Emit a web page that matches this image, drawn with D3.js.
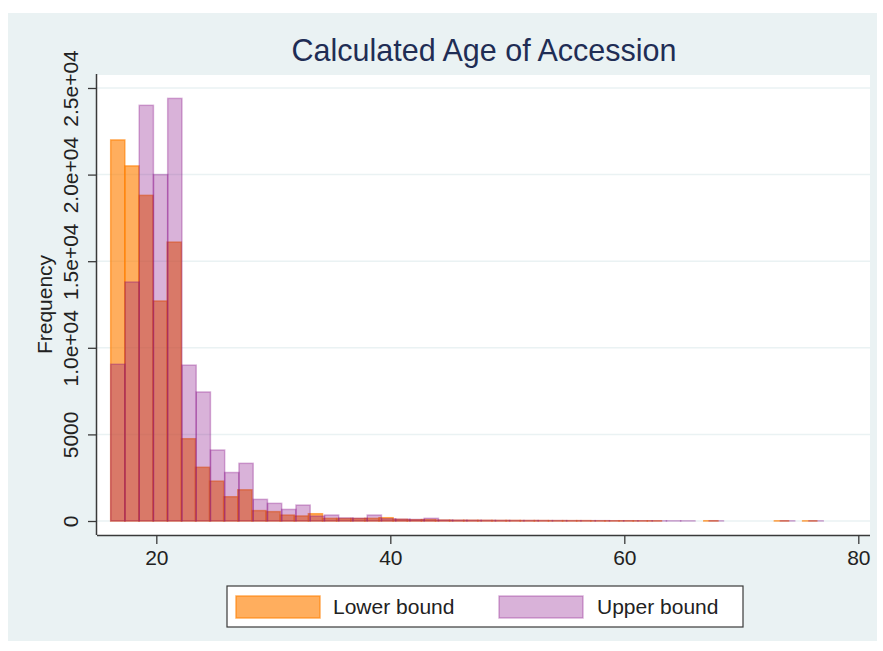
<!DOCTYPE html>
<html>
<head>
<meta charset="utf-8">
<script src="https://cdn.jsdelivr.net/npm/d3@7"></script>
<style>
  html, body { margin: 0; padding: 0; background: #ffffff; }
  svg { display: block; font-family: "Liberation Sans", Arial, sans-serif; }
</style>
</head>
<body>
<svg id="chart" width="883" height="651"></svg>
<script>
// Histogram of calculated age of accession: two overlaid histograms
// (lower and upper bound), 50 bins each.
const chartTitle = "Calculated Age of Accession";
const yTitle = "Frequency";
const seriesNames = ["Lower bound", "Upper bound"];

// bin layout of each histogram
const lowerStart = 16.1, lowerWidth = 1.207;
const upperStart = 16.1, upperWidth = 1.218;

// bin frequencies, bins 0..49
const lowerCounts = [
  22000, 20500, 18800, 12700, 16100, 4750, 3100, 2300, 1400, 1800,
  600, 540, 340, 290, 420, 150, 140, 140, 150, 190,
  90, 70, 80, 50, 40, 40, 35, 30, 30, 25,
  25, 20, 20, 20, 15, 15, 15, 12, 12, 0,
  0, 0, 15, 0, 0, 0, 0, 12, 0, 10
];
const upperCounts = [
  9050, 13800, 24000, 20000, 24400, 9000, 7450, 4100, 2800, 3330,
  1250, 1020, 670, 920, 280, 346, 180, 160, 346, 130,
  110, 90, 156, 60, 50, 45, 40, 35, 30, 30,
  25, 25, 20, 20, 20, 15, 15, 15, 12, 12,
  10, 0, 12, 0, 0, 0, 0, 12, 0, 10
];

const xTicks = [20, 40, 60, 80];
const yTicks = [0, 5000, 10000, 15000, 20000, 25000];
const yTickLabels = ["0", "5000", "1.0e+04", "1.5e+04", "2.0e+04", "2.5e+04"];

const svg = d3.select("#chart");

// outer graph region
svg.append("rect").attr("x", 8).attr("y", 13).attr("width", 869).attr("height", 628)
  .attr("fill", "#eaf2f3");

// plot region
const plotLeft = 97, plotRight = 870, plotTop = 75, plotBottom = 535;
svg.append("rect").attr("x", plotLeft).attr("y", plotTop)
  .attr("width", plotRight - plotLeft).attr("height", plotBottom - plotTop).attr("fill", "#ffffff");

const x = d3.scaleLinear().domain([14.93, 81.0]).range([plotLeft, plotRight]);
const y = d3.scaleLinear().domain([-808, 25750]).range([plotBottom, plotTop]);

// horizontal grid lines
svg.append("g").selectAll("line").data(yTicks).join("line")
  .attr("x1", plotLeft).attr("x2", plotRight)
  .attr("y1", d => y(d)).attr("y2", d => y(d))
  .attr("stroke", "#eaf2f3").attr("stroke-width", 1.5);

function bins(counts, start, width) {
  return counts.map((c, i) => ({ x0: start + i * width, x1: start + (i + 1) * width, n: c }))
    .filter(d => d.n > 0);
}

const seriesStyle = [
  { color: "rgb(255,127,0)", opacity: 0.63 },
  { color: "rgb(128,0,128)", opacity: 0.30 }
];

const drawBars = (data, st) => {
  svg.append("g").selectAll("rect").data(data).join("rect")
    .attr("x", d => x(d.x0))
    .attr("width", d => x(d.x1) - x(d.x0))
    .attr("y", d => y(d.n))
    .attr("height", d => y(0) - y(d.n))
    .attr("fill", st.color).attr("fill-opacity", st.opacity)
    .attr("stroke", st.color).attr("stroke-opacity", st.opacity)
    .attr("stroke-width", 1.5);
};
drawBars(bins(lowerCounts, lowerStart, lowerWidth), seriesStyle[0]);
drawBars(bins(upperCounts, upperStart, upperWidth), seriesStyle[1]);

// axes
const axisColor = "#3a3a3a";
const xAxis = svg.append("g").attr("transform", `translate(0,${plotBottom})`)
  .call(d3.axisBottom(x).tickValues(xTicks).tickSize(9).tickPadding(6).tickFormat(d3.format("d")));
xAxis.select(".domain").attr("d", `M${plotLeft},0.5H${plotRight}`).attr("stroke", axisColor).attr("stroke-width", 1.5);
xAxis.selectAll(".tick line").attr("stroke", axisColor).attr("stroke-width", 1.3);
xAxis.selectAll(".tick text").attr("font-size", 21).attr("fill", "#222")
  .attr("font-family", "Liberation Sans, Arial, sans-serif");

const yAxis = svg.append("g").attr("transform", `translate(${plotLeft},0)`)
  .call(d3.axisLeft(y).tickValues(yTicks).tickSize(9).tickFormat((d, i) => yTickLabels[i]));
yAxis.select(".domain").attr("d", `M-0.5,${plotTop - 1}V${plotBottom}`).attr("stroke", axisColor).attr("stroke-width", 1.5);
yAxis.selectAll(".tick line").attr("stroke", axisColor).attr("stroke-width", 1.3);
yAxis.selectAll(".tick text")
  .attr("font-size", 21).attr("fill", "#222")
  .attr("font-family", "Liberation Sans, Arial, sans-serif")
  .attr("x", null).attr("dy", null)
  .attr("text-anchor", "middle")
  .attr("transform", "translate(-19,0) rotate(-90)");

// axis title
svg.append("text")
  .attr("transform", `translate(52,${y(12500)}) rotate(-90)`)
  .attr("text-anchor", "middle").attr("font-size", 21).attr("fill", "#222")
  .text(yTitle);

// chart title
svg.append("text").attr("x", 484).attr("y", 61)
  .attr("text-anchor", "middle").attr("font-size", 30.5).attr("fill", "#1f2d55")
  .text(chartTitle);

// legend
const lg = svg.append("g");
lg.append("rect").attr("x", 227).attr("y", 586).attr("width", 516).attr("height", 41)
  .attr("fill", "#ffffff").attr("stroke", "#3a3a3a").attr("stroke-width", 1.2);
const keyX = [236, 499], textX = [333, 597];
seriesNames.forEach((name, i) => {
  lg.append("rect").attr("x", keyX[i]).attr("y", 596).attr("width", 84).attr("height", 22)
    .attr("fill", seriesStyle[i].color).attr("fill-opacity", seriesStyle[i].opacity)
    .attr("stroke", seriesStyle[i].color).attr("stroke-opacity", seriesStyle[i].opacity)
    .attr("stroke-width", 1.5);
  lg.append("text").attr("x", textX[i]).attr("y", 614)
    .attr("font-size", 21).attr("fill", "#222").text(name);
});
</script>
</body>
</html>
